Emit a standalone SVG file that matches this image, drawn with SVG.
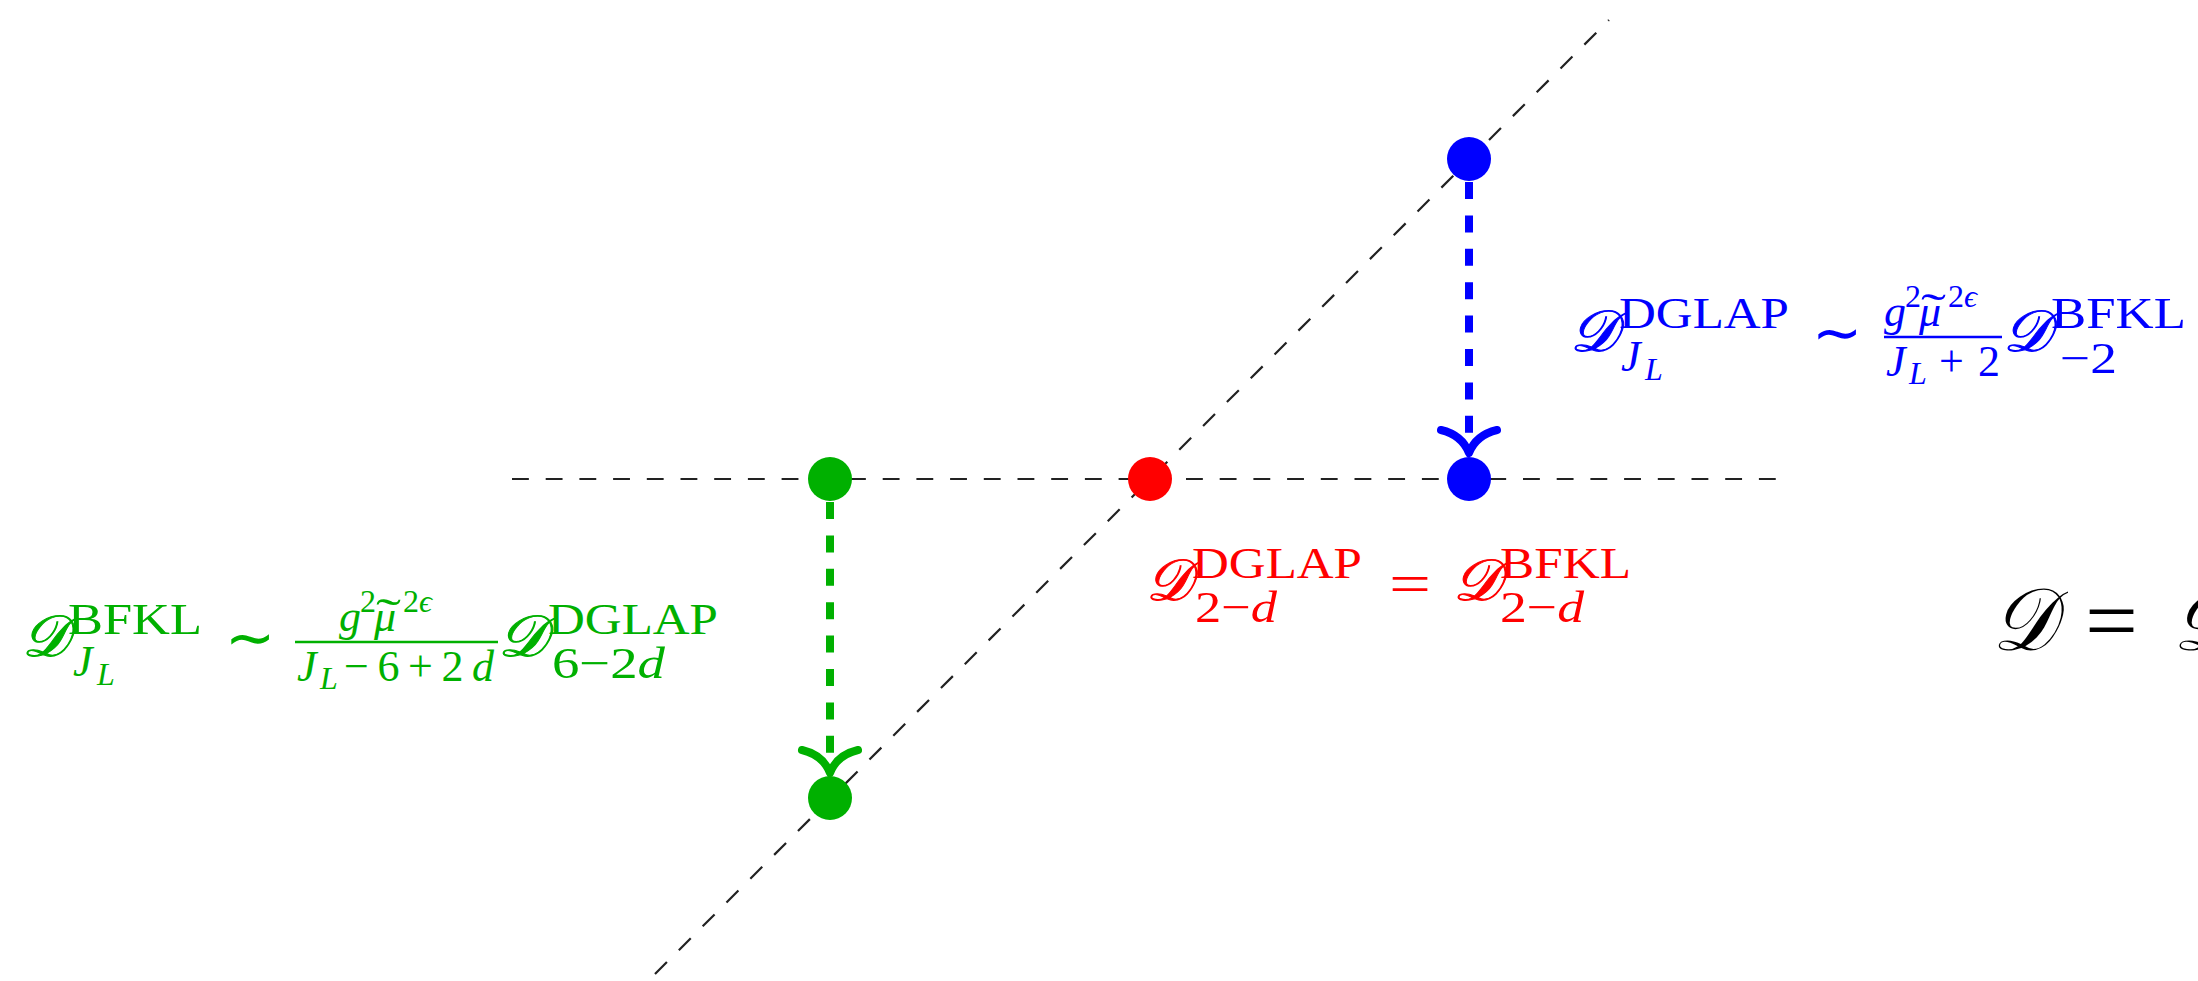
<svg xmlns="http://www.w3.org/2000/svg" width="2198" height="981" viewBox="0 0 2198 981">
<style>
.f{font-family:"Liberation Serif","DejaVu Serif",serif}
.i{font-style:italic}
.cal{font-family:"DejaVu Serif","DejaVu Sans","Liberation Serif",serif;font-style:italic;stroke-width:1}
.op{font-family:"DejaVu Sans","Liberation Serif",sans-serif}
.b{fill:#0000ff}.g{fill:#00b000}.r{fill:#ff0000}.k{fill:#000000}
.b .cal{stroke:#0000ff}.g .cal{stroke:#00b000}.r .cal{stroke:#ff0000}
.axis{stroke:#222;stroke-width:2.2;stroke-dasharray:16.85 16.85;fill:none}
.shaft{stroke-width:8;stroke-dasharray:17 16.4;fill:none}
.head{stroke-width:8;stroke-linecap:round;stroke-linejoin:round;fill:none}
</style>
<rect width="2198" height="981" fill="#ffffff"/>
<g id="axes">
<line class="axis" x1="512" y1="479" x2="1778" y2="479"/>
<line class="axis" x1="655" y1="974" x2="1609" y2="20"/>
</g>
<g id="connectors">
<g id="arrow-green" stroke="#00b000">
<line class="shaft" x1="830" y1="502" x2="830" y2="764"/>
<path class="head" d="M802,750 Q823,755 830,773 Q837,755 858,750"/>
</g>
<g id="arrow-blue" stroke="#0000ff">
<line class="shaft" x1="1469" y1="182" x2="1469" y2="444"/>
<path class="head" d="M1441,430 Q1462,435 1469,453 Q1476,435 1497,430"/>
</g>
</g>
<g id="node-green-top"><circle cx="830" cy="479" r="22" fill="#00b000"/></g>
<g id="node-green-bottom"><circle cx="830" cy="798" r="22" fill="#00b000"/></g>
<g id="node-red"><circle cx="1150" cy="479" r="22" fill="#ff0000"/></g>
<g id="node-blue-top"><circle cx="1469" cy="159" r="22" fill="#0000ff"/></g>
<g id="node-blue-bottom"><circle cx="1469" cy="479" r="22" fill="#0000ff"/></g>

<g id="label-blue" class="b">
<text class="cal" x="1570" y="351" font-size="58" textLength="47" lengthAdjust="spacingAndGlyphs">𝒟</text>
<text class="f" x="1619" y="328" font-size="44" textLength="170" lengthAdjust="spacingAndGlyphs">DGLAP</text>
<text class="f i" x="1621" y="371" font-size="44">J</text>
<text class="f i" x="1645" y="380" font-size="32">L</text>
<text class="op" x="1812" y="353" font-size="60">∼</text>
<text class="f i" x="1884" y="326" font-size="44">g</text>
<text class="f" x="1905" y="307" font-size="32">2</text>
<text class="f i" x="1919" y="326" font-size="44">μ</text>
<text class="f" x="1921" y="324" font-size="44" textLength="25" lengthAdjust="spacingAndGlyphs">˜</text>
<text class="f" x="1948" y="307" font-size="32">2<tspan class="i">ϵ</tspan></text>
<line x1="1884" y1="337" x2="2002" y2="337" stroke="#0000ff" stroke-width="2.5"/>
<text class="f i" x="1886" y="376" font-size="44">J</text>
<text class="f i" x="1909" y="384" font-size="32">L</text>
<text class="f" x="1939" y="376" font-size="44" textLength="61" lengthAdjust="spacing">+2</text>
<text class="cal" x="2003" y="351" font-size="58" textLength="47" lengthAdjust="spacingAndGlyphs">𝒟</text>
<text class="f" x="2051" y="328" font-size="44" textLength="135" lengthAdjust="spacingAndGlyphs">BFKL</text>
<text class="f" x="2060" y="373" font-size="44" textLength="57" lengthAdjust="spacingAndGlyphs">−2</text>
</g>

<g id="label-red" class="r">
<text class="cal" x="1146" y="600" font-size="58" textLength="45" lengthAdjust="spacingAndGlyphs">𝒟</text>
<text class="f" x="1192" y="578" font-size="44" textLength="170" lengthAdjust="spacingAndGlyphs">DGLAP</text>
<text class="f" x="1195" y="622" font-size="44" textLength="82" lengthAdjust="spacingAndGlyphs">2−<tspan class="i">d</tspan></text>
<text class="f" x="1389" y="603" font-size="58" textLength="42" lengthAdjust="spacingAndGlyphs">=</text>
<text class="cal" x="1453" y="600" font-size="58" textLength="47" lengthAdjust="spacingAndGlyphs">𝒟</text>
<text class="f" x="1500" y="578" font-size="44" textLength="131" lengthAdjust="spacingAndGlyphs">BFKL</text>
<text class="f" x="1500" y="622" font-size="44" textLength="84" lengthAdjust="spacingAndGlyphs">2−<tspan class="i">d</tspan></text>
</g>

<g id="label-green" class="g">
<text class="cal" x="22" y="656" font-size="58" textLength="46" lengthAdjust="spacingAndGlyphs">𝒟</text>
<text class="f" x="68" y="634" font-size="44" textLength="134" lengthAdjust="spacingAndGlyphs">BFKL</text>
<text class="f i" x="73" y="676" font-size="44">J</text>
<text class="f i" x="97" y="685" font-size="32">L</text>
<text class="op" x="225" y="658" font-size="60">∼</text>
<text class="f i" x="339" y="631" font-size="44">g</text>
<text class="f" x="360" y="612" font-size="32">2</text>
<text class="f i" x="374" y="631" font-size="44">μ</text>
<text class="f" x="376" y="629" font-size="44" textLength="25" lengthAdjust="spacingAndGlyphs">˜</text>
<text class="f" x="403" y="612" font-size="32">2<tspan class="i">ϵ</tspan></text>
<line x1="295" y1="642" x2="498" y2="642" stroke="#00b000" stroke-width="2.5"/>
<text class="f i" x="297" y="681" font-size="44">J</text>
<text class="f i" x="320" y="689" font-size="32">L</text>
<text class="f" x="344" y="681" font-size="44" textLength="150" lengthAdjust="spacing">−6+2<tspan class="i">d</tspan></text>
<text class="cal" x="498" y="656" font-size="58" textLength="48" lengthAdjust="spacingAndGlyphs">𝒟</text>
<text class="f" x="548" y="634" font-size="44" textLength="170" lengthAdjust="spacingAndGlyphs">DGLAP</text>
<text class="f" x="552" y="678" font-size="44" textLength="113" lengthAdjust="spacingAndGlyphs">6−2<tspan class="i">d</tspan></text>
</g>

<g id="label-black" class="k">
<text class="cal" x="1992" y="650" font-size="88" textLength="63" lengthAdjust="spacingAndGlyphs" stroke-width="0">𝒟</text>
<text class="f" x="2085" y="650" font-size="88" textLength="53" lengthAdjust="spacingAndGlyphs">=</text>
<text class="cal" x="2172" y="650" font-size="88" stroke-width="0">𝒟</text>
</g>
</svg>
